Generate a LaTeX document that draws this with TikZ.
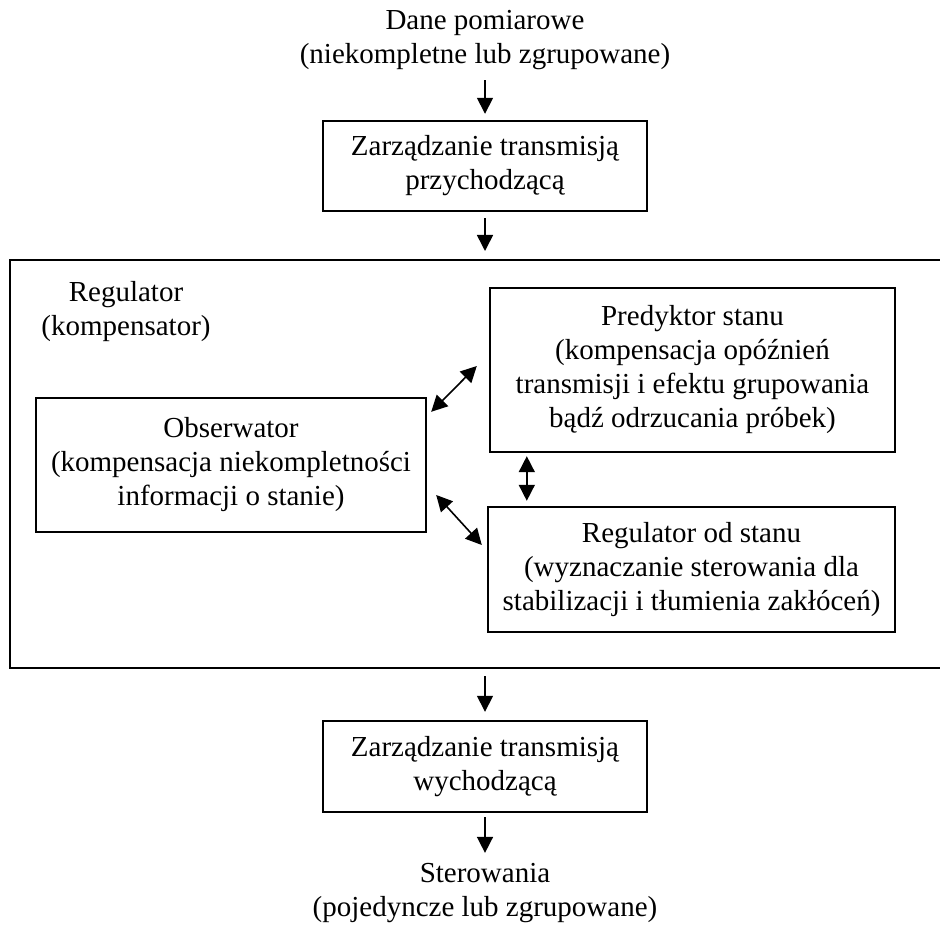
\documentclass[tikz,border=0pt]{standalone}
\usepackage{fontspec}
\setmainfont{Liberation Serif}
\usepackage{tikz}
\usetikzlibrary{arrows.meta}

\begin{document}
\begin{tikzpicture}[x=0.5pt,y=-0.5pt,
    txt/.style={align=center,inner sep=0pt,font=\fontsize{14.5}{17}\selectfont},
    blok/.style={txt,draw,line width=1.2pt,minimum width=#1},
    flow/.style={line width=0.8pt,-{Triangle[length=8pt,width=8pt]}},
    biflow/.style={line width=0.8pt,{Triangle[length=8pt,width=8pt]}-{Triangle[length=8pt,width=8pt]}}]
    \useasboundingbox (0,0) rectangle (940,924);

    % Nodes
    \node[txt] (dane) at (485,40) {Dane pomiarowe\\(niekompletne lub zgrupowane)};
    \node[blok=162pt,minimum height=45pt] (in) at (485,166) {Zarządzanie transmisją\\przychodzącą};
    \node[draw,line width=1pt,minimum width=466pt,minimum height=204pt,inner sep=0pt] (reg) at (476,464) {};
    \node[txt] (regtxt) at (126,312) {Regulator\\(kompensator)};
    \node[blok=195pt,minimum height=67pt] (obs) at (231,465) {Obserwator\\(kompensacja niekompletności\\informacji o stanie)};
    \node[blok=202.5pt,minimum height=82pt] (pred) at (692.5,370) {Predyktor stanu\\(kompensacja opóźnień\\transmisji i efektu grupowania\\bądź odrzucania próbek)};
    \node[blok=203.5pt,minimum height=62.5pt] (rs) at (691.5,569.5) {Regulator od stanu\\(wyznaczanie sterowania dla\\stabilizacji i tłumienia zakłóceń)};
    \node[blok=162pt,minimum height=45.5pt] (out) at (485,766.5) {Zarządzanie transmisją\\wychodzącą};
    \node[txt] (ster) at (485,893) {Sterowania\\(pojedyncze lub zgrupowane)};

    % Edges
    \path[draw,flow,shorten <=5pt,shorten >=3pt] (dane) -- (in);
    \path[draw,flow,shorten <=3pt,shorten >=4pt] (in.south) -- (in.south |- reg.north);
    \path[draw,flow,shorten <=3.5pt,shorten >=4pt] (out.north |- reg.south) -- (out.north);
    \path[draw,flow,shorten <=2pt,shorten >=5pt] (out) -- (ster);
    \path[draw,biflow] ([xshift=2pt,yshift=-7.5pt]obs.north east) -- ([xshift=-6pt,yshift=2pt]pred.west);
    \path[draw,biflow] ([xshift=4.5pt,yshift=-15pt]obs.east) -- ([xshift=-2.5pt,yshift=12.25pt]rs.west);
    \path[draw,biflow] ([xshift=19pt,yshift=-1.5pt]pred.south west) -- ([xshift=20pt,yshift=2.5pt]rs.north west);
\end{tikzpicture}
\end{document}
